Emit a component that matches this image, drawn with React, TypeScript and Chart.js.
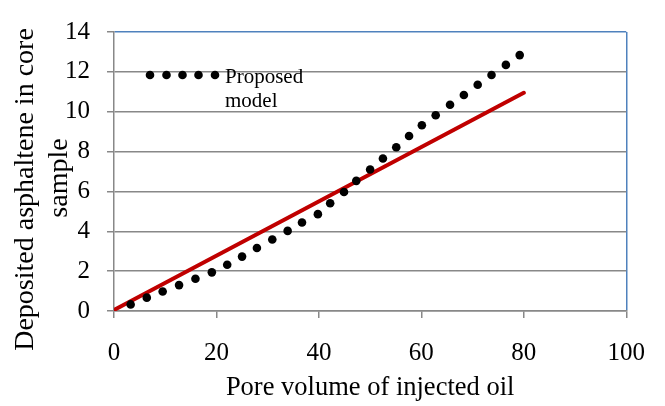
import React, { useEffect, useRef } from "react";
import { Chart, registerables } from "chart.js";

Chart.register(...registerables);

// ---- data ----
const modelX = [3.25, 6.4, 9.5, 12.7, 15.9, 19.1, 22.1, 25.0, 27.9, 30.9, 33.9, 36.7, 39.8, 42.2, 44.9, 47.3, 50.0, 52.5, 55.1, 57.6, 60.1, 62.8, 65.6, 68.3, 71.0, 73.7, 76.5, 79.2];
const modelY = [0.33, 0.67, 0.98, 1.3, 1.62, 1.94, 2.32, 2.73, 3.16, 3.59, 4.02, 4.44, 4.86, 5.41, 5.97, 6.53, 7.1, 7.65, 8.22, 8.78, 9.32, 9.82, 10.35, 10.84, 11.35, 11.84, 12.35, 12.84];
const lineX = [0, 80];
const lineY = [0.05, 10.95];
const xTicks = [0, 20, 40, 60, 80, 100];
const yTicks = [0, 2, 4, 6, 8, 10, 12, 14];
const legendLabel = ["Proposed", "model"];
const xTitle = "Pore volume of injected oil";
const yTitle = ["Deposited asphaltene in core", "sample"];

const SERIF = "'Liberation Serif', 'Times New Roman', serif";
const GRID = "#888888";
const BLUE = "#4f81bd";

const overlayPlugin = {
  id: "overlay",
  afterDraw(chart: any) {
    const ctx = chart.ctx as CanvasRenderingContext2D;
    ctx.save();
    // y axis title (two lines, rotated)
    ctx.fillStyle = "#000";
    ctx.font = `28px ${SERIF}`;
    ctx.textAlign = "center";
    ctx.textBaseline = "alphabetic";
    const pos = [
      [33.3, 189.5],
      [66.7, 178],
    ];
    yTitle.forEach((t, i) => {
      ctx.save();
      ctx.translate(pos[i][0], pos[i][1]);
      ctx.rotate(-Math.PI / 2);
      ctx.fillText(t, 0, 0);
      ctx.restore();
    });
    // legend: dotted sample + two-line label
    ctx.fillStyle = "#000";
    [150, 166.5, 182.5, 198.5, 215].forEach((x) => {
      ctx.beginPath();
      ctx.arc(x, 75, 4.3, 0, Math.PI * 2);
      ctx.fill();
    });
    ctx.font = `21px ${SERIF}`;
    ctx.textAlign = "left";
    ctx.fillText(legendLabel[0], 225, 82.7);
    ctx.fillText(legendLabel[1], 225, 107.3);
    ctx.restore();
  },
};

export default function App() {
  const ref = useRef<HTMLCanvasElement | null>(null);

  useEffect(() => {
    if (!ref.current) return;
    const chart = new Chart(ref.current, {
      type: "scatter",
      data: {
        datasets: [
          {
            label: legendLabel.join(" "),
            data: modelX.map((x, i) => ({ x, y: modelY[i] })),
            showLine: false,
            pointRadius: 4.3,
            pointBorderWidth: 0,
            pointBackgroundColor: "#000",
            pointBorderColor: "#000",
            order: 1,
          },
          {
            label: "Linear",
            data: lineX.map((x, i) => ({ x, y: lineY[i] })),
            showLine: true,
            borderColor: "#c00000",
            borderWidth: 4,
            borderCapStyle: "round",
            pointRadius: 0,
            order: 2,
          },
        ],
      },
      options: {
        animation: false,
        responsive: false,
        devicePixelRatio: 1,
        layout: { padding: { top: 17, right: 38, left: 0, bottom: 0 } },
        plugins: {
          legend: { display: false },
          tooltip: { enabled: false },
        },
        scales: {
          x: {
            type: "linear",
            min: 0,
            max: 100,
            afterBuildTicks: (s: any) => {
              s.ticks = xTicks.map((v) => ({ value: v }));
            },
            afterFit: (s: any) => {
              s.height = 95;
            },
            ticks: {
              color: "#000",
              font: { family: SERIF, size: 25 },
              padding: 20,
              maxRotation: 0,
            },
            grid: {
              drawOnChartArea: true,
              color: (c: any) => (c.tick && c.tick.value === 100 ? BLUE : "rgba(0,0,0,0)"),
              tickColor: GRID,
              tickLength: 7,
              lineWidth: 1.5,
            },
            border: { display: true, color: GRID, width: 1.5 },
            title: {
              display: true,
              text: xTitle,
              color: "#000",
              font: { family: SERIF, size: 26.5 },
              padding: { top: 0, bottom: 2 },
            },
          },
          y: {
            type: "linear",
            min: 0,
            max: 14,
            afterBuildTicks: (s: any) => {
              s.ticks = yTicks.map((v) => ({ value: v }));
            },
            afterFit: (s: any) => {
              s.width = 114;
            },
            ticks: {
              color: "#000",
              font: { family: SERIF, size: 25 },
              padding: 17,
            },
            grid: {
              color: (c: any) => (c.tick && c.tick.value === 14 ? BLUE : GRID),
              tickColor: GRID,
              tickLength: 7,
              lineWidth: 1.5,
            },
            border: { display: true, color: GRID, width: 1.5 },
          },
        },
      },
      plugins: [overlayPlugin],
    } as any);
    return () => chart.destroy();
  }, []);

  return (
    <div style={{ position: "fixed", left: 0, top: 0, width: 665, height: 406, background: "#fff" }}>
      <canvas ref={ref} width={665} height={406} style={{ display: "block" }} />
    </div>
  );
}
